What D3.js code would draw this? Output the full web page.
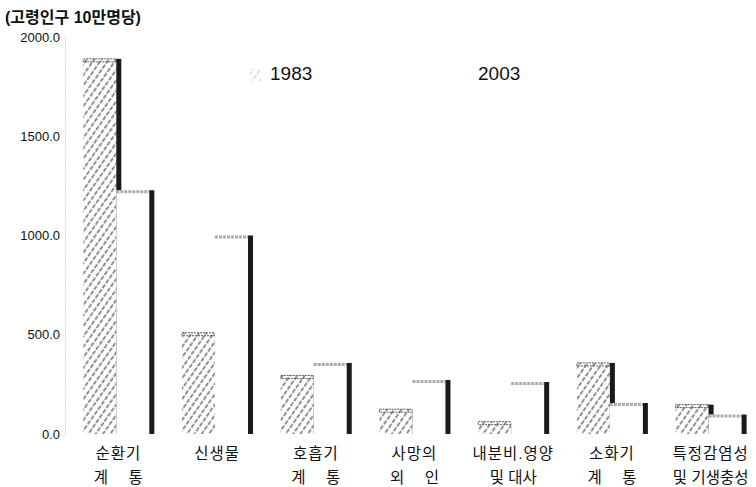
<!DOCTYPE html>
<html>
<head>
<meta charset="utf-8">
<script src="https://cdn.jsdelivr.net/npm/d3@7"></script>
<style>
	body { margin: 0; background: #fff; }
	text { font-family: "Liberation Sans", "Noto Sans CJK KR", sans-serif; fill: #111; }
</style>
</head>
<body>
<svg id="chart"></svg>
<script>
const categories = ['순환기', '신생물', '호흡기', '사망의', '내분비.영양', '소화기', '특정감염성'];
const categories2 = ['계 통', '', '계 통', '외 인', '및 대사', '계 통', '및 기생충성'];
const series = ['1983', '2003'];
const values1983 = [1890, 510, 295, 125, 62, 358, 148];
const values2003 = [1228, 1000, 358, 272, 262, 156, 98];
const yTicks = [0, 500, 1000, 1500, 2000];
const unitLabel = '(고령인구 10만명당)';

function makeChart() {
	let w = 756;
	let h = 487;

	let chart = d3.select('#chart')
		.attr('width', w)
		.attr('height', h);

	let defs = chart.append('defs');
	let hatch = defs.append('pattern')
		.attr('id', 'hatch')
		.attr('patternUnits', 'userSpaceOnUse')
		.attr('width', 6)
		.attr('height', 6)
		.attr('patternTransform', 'rotate(35)');
	hatch.append('line')
		.attr('x1', 1).attr('y1', 0)
		.attr('x2', 1).attr('y2', 6)
		.style('stroke', '#222')
		.style('stroke-width', 1)
		.style('stroke-dasharray', '3,1.5');

	let y = d3.scaleLinear()
		.domain([0, 2000])
		.range([434, 37]);

	let x = d3.scaleBand()
		.domain(categories)
		.range([69, 760])
		.paddingInner(0.29)
		.paddingOuter(0.145);

	let x1 = d3.scaleBand()
		.domain(series)
		.range([0, 66]);

	let side = 5;
	let topH = 3;

	// y axis
	let yAxis = d3.axisLeft(y)
		.tickValues(yTicks)
		.tickSize(0)
		.tickPadding(5)
		.tickFormat(d3.format('.1f'));

	let ag = chart.append('g')
		.attr('transform', 'translate(65,0)')
		.call(yAxis);
	ag.select('.domain')
		.style('stroke', '#999')
		.style('stroke-width', 0.8)
		.style('stroke-dasharray', '1,2');
	ag.selectAll('text')
		.style('font-size', '13px')
		.style('fill', '#111');

	let rows = categories.map((c, i) => ({cat: c, v: [values1983[i], values2003[i]]}));

	let groups = chart.selectAll('.grp')
		.data(rows)
		.enter()
		.append('g')
		.attr('transform', d => 'translate(' + x(d.cat) + ',0)');

	// 1983 bars
	groups.append('rect')
		.attr('x', x1('1983'))
		.attr('y', d => y(d.v[0]))
		.attr('width', x1.bandwidth())
		.attr('height', d => y(0) - y(d.v[0]))
		.style('fill', 'url(#hatch)');
	groups.append('rect')
		.attr('x', x1('1983'))
		.attr('y', d => y(d.v[0]))
		.attr('width', x1.bandwidth())
		.attr('height', topH)
		.style('fill', 'none')
		.style('stroke', '#555')
		.style('stroke-dasharray', '2,1');
	groups.append('rect')
		.attr('x', x1('1983') + x1.bandwidth())
		.attr('y', d => y(d.v[0]))
		.attr('width', side)
		.attr('height', d => y(0) - y(d.v[0]))
		.style('fill', '#1a1a1a');

	// 2003 bars
	groups.append('rect')
		.attr('x', x1('2003'))
		.attr('y', d => y(d.v[1]))
		.attr('width', x1.bandwidth() + side)
		.attr('height', d => y(0) - y(d.v[1]))
		.style('fill', '#fff');
	groups.append('line')
		.attr('x1', x1('2003'))
		.attr('x2', x1('2003') + x1.bandwidth())
		.attr('y1', d => y(d.v[1]) + 1.5)
		.attr('y2', d => y(d.v[1]) + 1.5)
		.style('stroke', '#aaa')
		.style('stroke-width', 3)
		.style('stroke-dasharray', '3,1');
	groups.append('rect')
		.attr('x', x1('2003') + x1.bandwidth())
		.attr('y', d => y(d.v[1]))
		.attr('width', side)
		.attr('height', d => y(0) - y(d.v[1]))
		.style('fill', '#1a1a1a');

	// category labels
	groups.append('text')
		.attr('x', x.bandwidth() / 2)
		.attr('y', 459)
		.style('font-size', '15.5px')
		.style('text-anchor', 'middle')
		.style('letter-spacing', '1px')
		.text(d => d.cat);

	groups.append('text')
		.attr('x', x.bandwidth() / 2)
		.attr('y', 483)
		.style('font-size', '15.5px')
		.style('text-anchor', 'middle')
		.text((d, i) => categories2[i])
		.each(function (d, i) {
			let s = categories2[i];
			if (s.replace(' ', '').length === 2) {
				d3.select(this)
					.attr('textLength', 49)
					.attr('lengthAdjust', 'spacing');
			}
		});

	// unit label
	chart.append('text')
		.attr('x', 5)
		.attr('y', 23)
		.style('font-size', '16px')
		.style('font-weight', 'bold')
		.text(unitLabel);

	// legend
	chart.append('rect')
		.attr('x', 250)
		.attr('y', 69)
		.attr('width', 11)
		.attr('height', 12)
		.style('fill', 'url(#hatch)')
		.style('opacity', 0.3);
	chart.selectAll('.leg')
		.data(series)
		.enter()
		.append('text')
		.attr('x', (d, i) => i === 0 ? 270 : 478)
		.attr('y', 80)
		.style('font-size', '19px')
		.text(d => d);
}

window.onload = function () {
	makeChart();
}
</script>
</body>
</html>
